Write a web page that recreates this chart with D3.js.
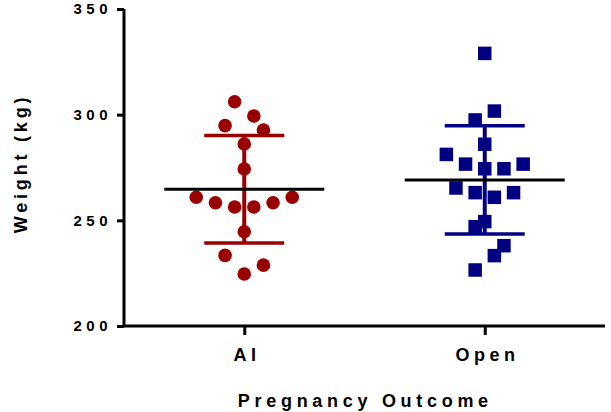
<!DOCTYPE html>
<html>
<head>
<meta charset="utf-8">
<script src="https://cdn.jsdelivr.net/npm/d3@7"></script>
<style>
  html, body { margin: 0; padding: 0; background: #fff; }
  svg { display: block; font-family: "Liberation Sans", Arial, sans-serif; font-weight: bold; }
</style>
</head>
<body>
<svg id="chart" width="611" height="412"></svg>
<script>
// Body weight by pregnancy outcome (individual animals, mean ± SD)
const groups = ["AI", "Open"];
const groupColors = ["#990000", "#000080"];

const aiWeights = [306.1, 299.4, 294.8, 292.7, 286.1, 274.3, 260.9, 260.9,
                   258.3, 258.3, 256.3, 256.3, 244.6, 233.4, 228.8, 224.6];
// horizontal scatter slot of each point (column scatter layout)
const aiSlots   = [-1, 1, -2, 2, 0, 0, -5, 5, -3, 3, -1, 1, 0, -2, 2, 0];

const openWeights = [329.0, 301.7, 297.5, 286.0, 281.2, 276.6, 276.6, 274.4, 274.4,
                     265.3, 263.1, 263.1, 260.9, 249.4, 247.0, 238.0, 233.3, 226.5];
const openSlots   = [0, 1, -1, 0, -4, -2, 4, 0, 2, -3, -1, 3, 1, 0, -1, 2, 1, -1];

const yTicks = [200, 250, 300, 350];
const xTitle = "Pregnancy Outcome";
const yTitle = "Weight (kg)";

const series = [
  { name: groups[0], values: aiWeights, slots: aiSlots, color: groupColors[0], shape: "circle" },
  { name: groups[1], values: openWeights, slots: openSlots, color: groupColors[1], shape: "square" }
];

const svg = d3.select("#chart");
const plotLeft = 124, plotRight = 605, plotTop = 9, plotBottom = 326;

const y = d3.scaleLinear().domain([200, 350]).range([plotBottom, plotTop]);
const x = d3.scalePoint().domain(groups).range([plotLeft, plotRight]).padding(0.5);
const slotWidth = 9.6;

// points
series.forEach(s => {
  const g = svg.append("g");
  const cx0 = x(s.name);
  if (s.shape === "circle") {
    g.selectAll("circle").data(s.values).join("circle")
      .attr("cx", (d, i) => cx0 + s.slots[i] * slotWidth)
      .attr("cy", d => y(d))
      .attr("r", 6.8)
      .attr("fill", s.color);
  } else {
    const side = 13.5;
    g.selectAll("rect").data(s.values).join("rect")
      .attr("x", (d, i) => cx0 + s.slots[i] * slotWidth - side / 2)
      .attr("y", d => y(d) - side / 2)
      .attr("width", side).attr("height", side)
      .attr("fill", s.color);
  }
});

// mean ± SD
series.forEach(s => {
  const m = d3.mean(s.values);
  const sd = d3.deviation(s.values);
  const cx0 = x(s.name);
  const g = svg.append("g");
  g.append("line")
    .attr("x1", cx0).attr("x2", cx0)
    .attr("y1", y(m + sd)).attr("y2", y(m - sd))
    .attr("stroke", s.color).attr("stroke-width", 4);
  [m + sd, m - sd].forEach(v => {
    g.append("line")
      .attr("x1", cx0 - 40).attr("x2", cx0 + 40)
      .attr("y1", y(v)).attr("y2", y(v))
      .attr("stroke", s.color).attr("stroke-width", 3.5);
  });
  g.append("line")
    .attr("x1", cx0 - 80).attr("x2", cx0 + 80)
    .attr("y1", y(m)).attr("y2", y(m))
    .attr("stroke", "#000").attr("stroke-width", 3);
});

// axes
const yAxis = svg.append("g")
  .attr("transform", `translate(${plotLeft},0)`)
  .call(d3.axisLeft(y).tickValues(yTicks).tickSize(7).tickPadding(5).tickSizeOuter(0));
yAxis.select(".domain").remove();
yAxis.selectAll(".tick line").attr("stroke", "#000").attr("stroke-width", 3);
yAxis.selectAll(".tick text")
  .attr("font-size", 15).attr("font-family", "Liberation Sans, Arial, sans-serif")
  .attr("font-weight", "bold").attr("fill", "#000")
  .style("letter-spacing", "4.5px");

const xAxis = svg.append("g")
  .attr("transform", `translate(0,${plotBottom})`)
  .call(d3.axisBottom(x).tickSize(9).tickPadding(0).tickSizeOuter(0));
xAxis.select(".domain").remove();
xAxis.selectAll(".tick line").attr("stroke", "#000").attr("stroke-width", 3);
xAxis.selectAll(".tick text")
  .attr("y", 35).attr("dy", 0).attr("dx", 2.25)
  .attr("font-size", 18).attr("font-family", "Liberation Sans, Arial, sans-serif")
  .attr("font-weight", "bold").attr("fill", "#000")
  .style("letter-spacing", "4.5px");

svg.append("path")
  .attr("d", `M${plotLeft},${plotTop}V${plotBottom}H${plotRight}`)
  .attr("fill", "none").attr("stroke", "#000").attr("stroke-width", 3)
  .attr("stroke-linecap", "butt").attr("stroke-linejoin", "miter");

// titles
svg.append("text")
  .attr("x", 363 + 2.35).attr("y", 407)
  .attr("text-anchor", "middle")
  .attr("font-size", 18).attr("fill", "#000")
  .style("letter-spacing", "4.7px")
  .text(xTitle);

svg.append("text")
  .attr("transform", `translate(27,${(plotTop + plotBottom) / 2 - 2}) rotate(-90)`)
  .attr("text-anchor", "middle")
  .attr("dx", 2)
  .attr("font-size", 18).attr("fill", "#000")
  .style("letter-spacing", "3.8px")
  .text(yTitle);
</script>
</body>
</html>
